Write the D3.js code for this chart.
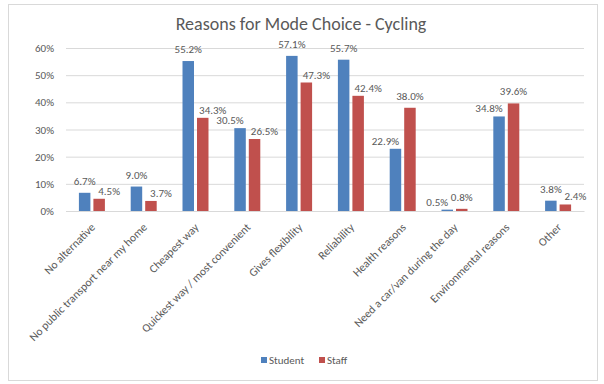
<!DOCTYPE html>
<html><head><meta charset="utf-8">
<script src="https://cdn.jsdelivr.net/npm/d3@7"></script>
<style>body{margin:0;background:#fff}svg{display:block}text{font-family:Calibri,Carlito,Lato,"Open Sans","Liberation Sans",sans-serif}</style>
</head><body>
<script>
const categories = ["No alternative","No public transport near my home","Cheapest way","Quickest way / most convenient","Gives flexibility","Reliability","Health reasons","Need a car/van during the day","Environmental reasons","Other"];
const seriesNames = ["Student","Staff"];
const student = [6.7, 9.0, 55.2, 30.5, 57.1, 55.7, 22.9, 0.5, 34.8, 3.8];
const staff = [4.5, 3.7, 34.3, 26.5, 47.3, 42.4, 38.0, 0.8, 39.6, 2.4];
const yTicks = [0, 10, 20, 30, 40, 50, 60];
const colors = ["#4f81bd", "#c0504d"];
const title = "Reasons for Mode Choice - Cycling";

const W = 604, H = 384;
const svg = d3.select("body").append("svg").attr("width", W).attr("height", H);
svg.append("rect").attr("x", 8.5).attr("y", 4.5).attr("width", 589).attr("height", 376)
  .attr("fill", "#fff").attr("stroke", "#d9d9d9");

const m = {left: 66, right: 584, top: 48, bottom: 211};
const x = d3.scaleBand().domain(categories).range([m.left, m.right]);
const y = d3.scaleLinear().domain([0, 60]).range([m.bottom, m.top]);
const x1 = d3.scaleBand().domain(seriesNames).range([0, x.bandwidth()]).paddingInner(0.207).paddingOuter(0.89);

svg.append("text").attr("x", 301).attr("y", 30).attr("text-anchor", "middle")
  .attr("font-size", 18).attr("fill", "#595959").text(title);

const yAxis = svg.append("g").attr("transform", `translate(${m.left},0)`)
  .call(d3.axisLeft(y).tickValues(yTicks).tickSize(-(m.right - m.left)).tickFormat(d => d + "%"));
yAxis.select(".domain").remove();
yAxis.selectAll("line").attr("stroke", "#d9d9d9");
yAxis.selectAll("text").attr("fill", "#595959").attr("font-size", 11).attr("x", -12);

const data = categories.map((c, i) => ({c, vals: [student[i], staff[i]]}));
const g = svg.selectAll(".cat").data(data).join("g").attr("transform", d => `translate(${x(d.c)},0)`);
g.selectAll("rect").data(d => d.vals.map((v, j) => ({v, s: seriesNames[j], j}))).join("rect")
  .attr("x", d => x1(d.s)).attr("width", x1.bandwidth())
  .attr("y", d => y(d.v)).attr("height", d => y(0) - y(d.v))
  .attr("fill", d => colors[d.j]);

// data labels with simple overlap avoidance (like the spreadsheet's placement)
g.each(function(d) {
  const grp = d3.select(this);
  const bw = x1.bandwidth();
  const cx = seriesNames.map(s => x1(s) + bw / 2);
  const labels = d.vals.map((v, j) => grp.append("text")
    .attr("text-anchor", "middle").attr("font-size", 11).attr("fill", "#595959")
    .text(v.toFixed(1) + "%"));
  const w = labels.map(t => t.node().getComputedTextLength());
  const yS = y(d.vals[0]), yT = y(d.vals[1]);
  let offS = 0, offT = 0, liftS = 8, liftT = 8;
  // staff label overlaps student bar
  if (yS < yT - 3) { offT = 10; liftT = 4; }
  // student label overlaps staff bar or staff label
  const hOverlap = (cx[0] + w[0] / 2) > (cx[1] + offT - w[1] / 2);
  if (yT < yS - 3 || (Math.abs(yS - yT) < 12 && hOverlap)) { offS = -10; liftS = 4; }
  // remaining overlap between labels
  const rem = (cx[0] + offS + w[0] / 2) - (cx[1] + offT - w[1] / 2);
  if (Math.abs(yS - liftS - (yT - liftT)) < 12 && rem > -2) offT += rem + 2;
  labels[0].attr("x", cx[0] + offS).attr("y", yS - liftS);
  labels[1].attr("x", cx[1] + offT).attr("y", yT - liftT);
});

const xAxis = svg.append("g").attr("transform", `translate(0,${m.bottom})`)
  .call(d3.axisBottom(x).tickSize(0));
xAxis.select(".domain").attr("stroke", "#d9d9d9");
xAxis.selectAll("text").attr("fill", "#595959").attr("font-size", 11.5)
  .attr("text-anchor", "end").attr("dy", 0).attr("y", 0)
  .attr("transform", "translate(4,17) rotate(-45)");

const leg = svg.append("g");
const lx = [261, 319];
seriesNames.forEach((s, i) => {
  leg.append("rect").attr("x", lx[i]).attr("y", 357).attr("width", 6).attr("height", 6).attr("fill", colors[i]);
  leg.append("text").attr("x", lx[i] + 8).attr("y", 364).attr("font-size", 11).attr("fill", "#595959").text(s);
});
</script>
</body></html>
